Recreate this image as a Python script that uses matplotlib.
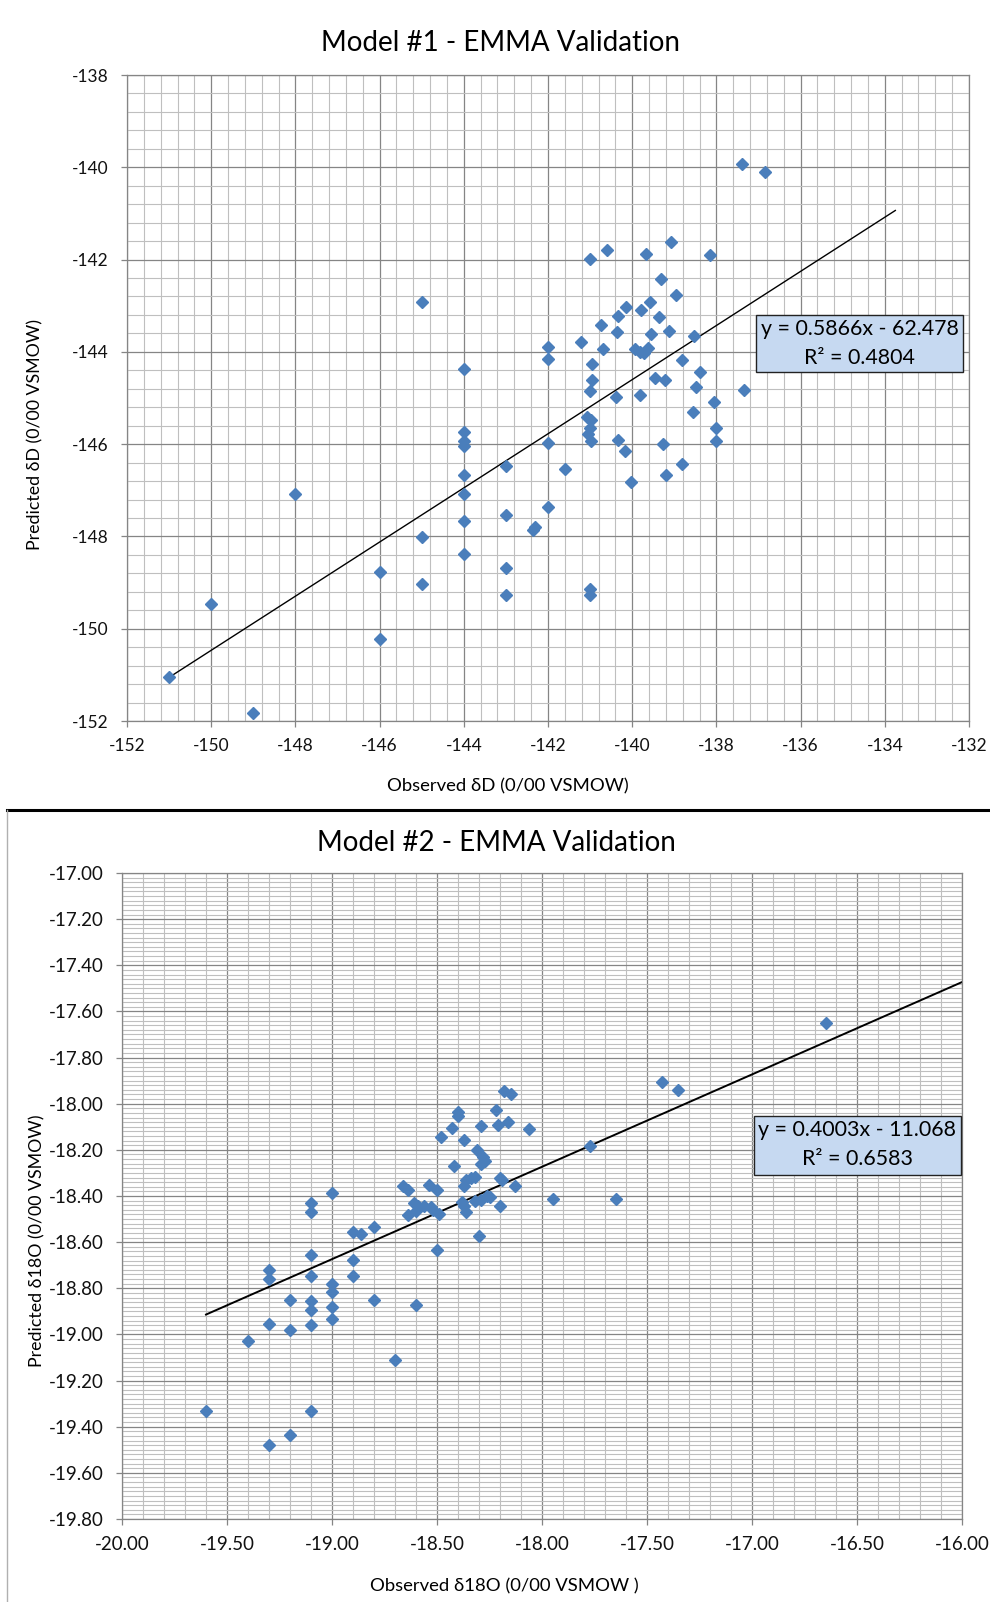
import matplotlib
matplotlib.use("Agg")
import matplotlib.pyplot as plt
from matplotlib.ticker import MultipleLocator, FormatStrFormatter
from matplotlib.patches import Rectangle
from matplotlib.lines import Line2D

plt.rcParams['font.family'] = ['Lato', 'DejaVu Sans']

# Model #1 - observed vs predicted dD
obs_d = [-137.4, -136.85, -141.0, -140.6, -139.68, -139.09, -138.15, -139.32, -138.96, -139.58,
         -140.15, -139.78, -140.33, -139.36, -140.75, -140.36, -139.55, -139.13, -138.53, -141.22,
         -142.0, -140.69, -139.93, -139.81, -139.72, -139.62, -142.0, -138.81, -140.96, -138.38,
         -140.95, -141.0, -139.46, -139.23, -138.49, -137.34, -140.38, -139.81, -138.06, -138.55,
         -141.08, -140.99, -141.0, -141.04, -140.99, -138.0, -138.0, -140.33, -139.28, -140.17,
         -141.6, -138.81, -139.2, -140.02, -142.0, -144.0, -144.0, -144.0, -144.0, -144.0,
         -144.0, -144.0, -144.0, -143.0, -142.0, -143.0, -142.3, -142.35, -145.0, -148.0,
         -145.0, -143.0, -146.0, -145.0, -143.0, -141.0, -141.0, -150.0, -146.0, -151.0,
         -149.0]
pred_d = [-139.92, -140.1, -141.99, -141.8, -141.88, -141.62, -141.91, -142.42, -142.76, -142.91,
          -143.02, -143.09, -143.22, -143.25, -143.42, -143.57, -143.62, -143.55, -143.65, -143.79,
          -143.89, -143.93, -143.94, -144.01, -144.03, -143.92, -144.16, -144.17, -144.27, -144.43,
          -144.61, -144.84, -144.57, -144.61, -144.77, -144.82, -144.97, -144.93, -145.08, -145.31,
          -145.41, -145.48, -145.66, -145.77, -145.93, -145.64, -145.93, -145.9, -145.99, -146.14,
          -146.53, -146.42, -146.67, -146.82, -145.97, -144.38, -145.74, -145.93, -146.04, -146.66,
          -147.07, -147.67, -148.37, -146.47, -147.37, -147.54, -147.8, -147.86, -142.92, -147.08,
          -148.02, -148.69, -148.77, -149.04, -149.26, -149.15, -149.26, -149.47, -150.23, -151.05,
          -151.82]
fit1_slope, fit1_icpt = 0.5866, -62.478
fit1_x = [-151.0, -133.75]

# Model #2 - observed vs predicted d18O
obs_o = [-19.6, -19.4, -19.3, -19.3, -19.3, -19.3, -19.2, -19.2, -19.2,
         -19.1, -19.1, -19.1, -19.1, -19.1, -19.1, -19.1, -19.1,
         -19.0, -19.0, -19.0, -19.0, -19.0,
         -18.9, -18.86, -18.9, -18.9, -18.8, -18.8, -18.7, -18.6,
         -18.18, -18.15, -18.22, -18.40, -18.40, -18.43, -18.29, -18.21, -18.16, -18.06,
         -18.48, -18.37, -18.31, -18.28, -18.27, -18.29, -18.42, -18.34, -18.32, -18.36,
         -18.37, -18.20, -18.19, -18.13, -18.66, -18.64, -18.54, -18.50, -18.61, -18.59,
         -18.56, -18.64, -18.60, -18.53, -18.52, -18.49, -18.38, -18.37, -18.36, -18.32,
         -18.29, -18.26, -18.25, -18.20, -17.95, -18.30, -18.50,
         -16.65, -17.43, -17.35, -17.77, -17.65]
pred_o = [-19.33, -19.03, -18.72, -18.76, -18.955, -19.48, -18.85, -18.98, -19.435,
          -18.43, -18.47, -18.656, -18.745, -18.854, -18.893, -18.958, -19.334,
          -18.387, -18.782, -18.818, -18.879, -18.934,
          -18.558, -18.565, -18.677, -18.745, -18.536, -18.85, -19.113, -18.872,
          -17.944, -17.957, -18.026, -18.038, -18.055, -18.105, -18.095, -18.092, -18.081, -18.108,
          -18.146, -18.159, -18.202, -18.231, -18.25, -18.26, -18.269, -18.322, -18.318, -18.332,
          -18.355, -18.322, -18.33, -18.355, -18.355, -18.376, -18.351, -18.376, -18.431, -18.445,
          -18.442, -18.481, -18.467, -18.449, -18.462, -18.477, -18.428, -18.445, -18.471, -18.423,
          -18.416, -18.399, -18.405, -18.442, -18.413, -18.575, -18.633,
          -17.648, -17.906, -17.942, -18.185, -18.414]
fit2_slope, fit2_icpt = 0.4003, -11.068
fit2_x = [-19.6, -16.0]

blue = '#4a7ebb'
major_c = '#858585'
minor_c = '#bfbfbf'

W, H = 990, 1602
fig = plt.figure(figsize=(W / 100, H / 100), dpi=100)


def px_axes(l, r, t, b):
    return fig.add_axes([l / W, 1 - b / H, (r - l) / W, (b - t) / H])


def style(ax, xmaj, xmin, ymaj, ymin, fmt, lsize):
    ax.xaxis.set_major_locator(MultipleLocator(xmaj))
    ax.xaxis.set_minor_locator(MultipleLocator(xmin))
    ax.yaxis.set_major_locator(MultipleLocator(ymaj))
    ax.yaxis.set_minor_locator(MultipleLocator(ymin))
    ax.xaxis.set_major_formatter(FormatStrFormatter(fmt))
    ax.yaxis.set_major_formatter(FormatStrFormatter(fmt))
    ax.grid(which='minor', color=minor_c, lw=0.8)
    ax.grid(which='major', color=major_c, lw=0.9)
    ax.set_axisbelow(True)
    for s in ax.spines.values():
        s.set_color(major_c)
        s.set_linewidth(0.9)
    ax.tick_params(which='major', direction='out', length=4.5, width=0.9,
                   color=major_c, labelsize=lsize, labelcolor='#111111')
    ax.tick_params(axis='y', which='major', pad=9)
    ax.tick_params(axis='x', which='major', pad=8)
    ax.tick_params(which='minor', length=0)


# ---- Model #1
ax1 = px_axes(127, 969, 75, 721)
ax1.plot(obs_d, pred_d, 'D', color=blue, ms=6.3, mec=blue, zorder=3)
ax1.plot(fit1_x, [fit1_slope * v + fit1_icpt for v in fit1_x], color='black', lw=1.0, zorder=2)
ax1.set_xlim(-152, -132)
ax1.set_ylim(-152, -138)
style(ax1, 2, 0.4, 2, 0.4, '%d', 12.5)

# ---- Model #2
ax2 = px_axes(122, 962, 873, 1519)
ax2.plot(obs_o, pred_o, 'D', color=blue, ms=6.3, mec=blue, zorder=3)
ax2.plot(fit2_x, [fit2_slope * v + fit2_icpt for v in fit2_x], color='black', lw=1.4, zorder=2)
ax2.set_xlim(-20, -16)
ax2.set_ylim(-19.8, -17.0)
style(ax2, 0.5, 0.1, 0.2, 0.02, '%.2f', 13.5)

# titles and axis labels
fig.text(500 / W, 1 - 43 / H, 'Model #1 - EMMA Validation', ha='center', va='center', fontsize=20)
fig.text(496 / W, 1 - 843 / H, 'Model #2 - EMMA Validation', ha='center', va='center', fontsize=20)
fig.text(508 / W, 1 - 786 / H, 'Observed δD (0/00 VSMOW)', ha='center', va='center', fontsize=13.3)
fig.text(504 / W, 1 - 1586 / H, 'Observed δ18O (0/00 VSMOW )', ha='center', va='center', fontsize=13.3)
fig.text(35 / W, 1 - 434 / H, 'Predicted δD (0/00 VSMOW)', ha='center', va='center',
         rotation=90, fontsize=12.8)
fig.text(37 / W, 1 - 1241 / H, 'Predicted δ18O (0/00 VSMOW)', ha='center', va='center',
         rotation=90, fontsize=12.8)

# trendline equation boxes
boxes = [
    (756, 963, 315, 372, 'y = 0.5866x - 62.478', 'R² = 0.4804'),
    (754, 961, 1116, 1175, 'y = 0.4003x - 11.068', 'R² = 0.6583'),
]
for l, r, t, b, l1, l2 in boxes:
    fig.patches.append(Rectangle((l / W, 1 - b / H), (r - l) / W, (b - t) / H,
                                 transform=fig.transFigure, facecolor='#c6d9f1',
                                 edgecolor='#222222', lw=1.0, zorder=5))
    cx = (l + r) / 2 / W
    fig.text(cx, 1 - (t + 14) / H, l1, ha='center', va='center', fontsize=15.4, zorder=6)
    fig.text(cx, 1 - (t + 43) / H, l2, ha='center', va='center', fontsize=15.4, zorder=6)

# separator between the two charts
fig.add_artist(Line2D([7 / W, 1], [1 - 810 / H, 1 - 810 / H], transform=fig.transFigure,
                      color='black', lw=2.2))
fig.add_artist(Line2D([7 / W, 7 / W], [1 - 810 / H, 0], transform=fig.transFigure,
                      color='#b0b0b0', lw=1.0))

fig.savefig('out.png', dpi=100)
